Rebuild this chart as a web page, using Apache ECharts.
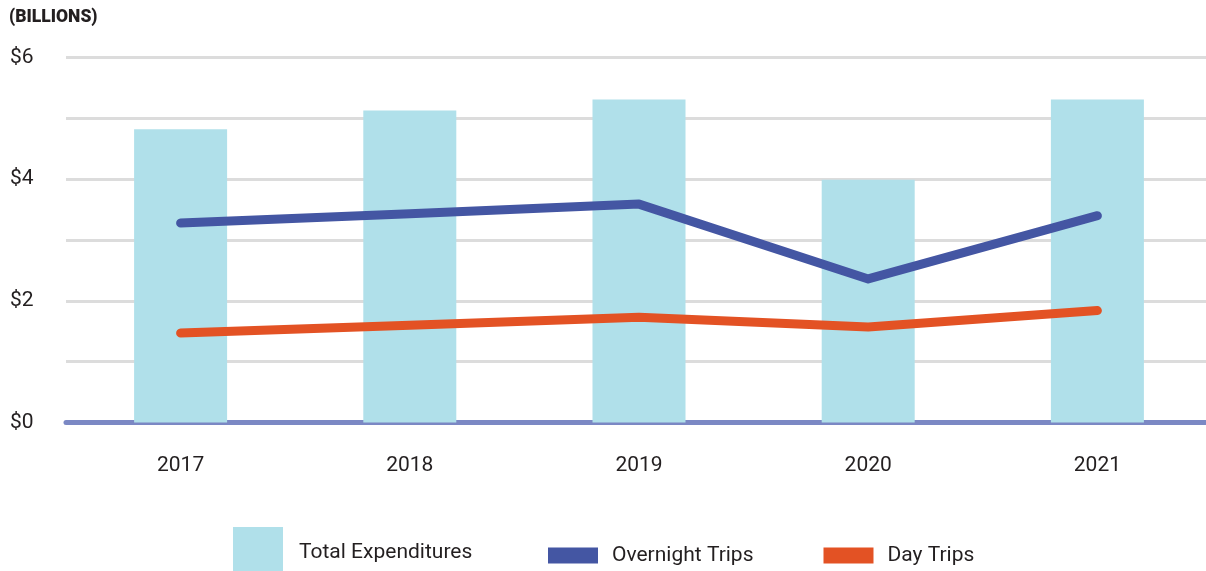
<!DOCTYPE html>
<html>
<head>
<meta charset="utf-8">
<script src="https://cdn.jsdelivr.net/npm/echarts@6/dist/echarts.min.js"></script>
<style>html,body{margin:0;padding:0;background:#fff;overflow:hidden;width:1206px;height:571px;}#c{width:1212px;height:571px;}</style>
</head>
<body>
<div id="c"></div>
<script>
const years = ['2017', '2018', '2019', '2020', '2021'];
const totalExpenditures = [4.82, 5.13, 5.31, 3.99, 5.31];
const overnightTrips = [3.28, 3.43, 3.59, 2.36, 3.40];
const dayTrips = [1.47, 1.60, 1.73, 1.57, 1.84];
const yTickLabels = {0: '$0', 2: '$2', 4: '$4', 6: '$6'};

const chart = echarts.init(document.getElementById('c'), null, {renderer: 'canvas'});
const font = 'Roboto, "Noto Sans", sans-serif';
chart.setOption({
  animation: false,
  textStyle: {fontFamily: font},
  title: {
    text: '(BILLIONS)', left: 9, top: 9, padding: 0,
    textStyle: {fontSize: 17.5, fontWeight: 900, color: '#231f20', fontFamily: font}
  },
  grid: {left: 66, right: 0, top: 57.5, bottom: 148.5, containLabel: false},
  legend: [
    {
      data: ['Total Expenditures'], left: 233, top: 527, padding: 0,
      itemWidth: 50, itemHeight: 52, itemGap: 54,
      icon: 'path://M0,0h50v44h-50zM0,52h0',
      textStyle: {fontSize: 21, color: '#231f20', padding: [0, 0, 0, 11], fontFamily: font}
    },
    {
      data: ['Overnight Trips', 'Day Trips'], left: 548, top: 545, padding: 0,
      itemWidth: 50, itemHeight: 16, itemGap: 70, icon: 'rect',
      textStyle: {fontSize: 21, color: '#231f20', padding: [0, 0, 0, 9], fontFamily: font}
    }
  ],
  xAxis: {
    type: 'category', data: years,
    axisLine: {show: true, lineStyle: {color: '#7b88c4', width: 5}},
    axisTick: {show: false},
    axisLabel: {fontSize: 21, color: '#231f20', margin: 33, fontFamily: font},
    splitLine: {show: false}
  },
  yAxis: {
    type: 'value', min: 0, max: 6, interval: 1,
    axisLine: {show: false}, axisTick: {show: false},
    axisLabel: {
      fontSize: 21, color: '#231f20', align: 'left', margin: 56, fontFamily: font,
      formatter: v => yTickLabels[v] || ''
    },
    splitLine: {lineStyle: {color: '#dcdcdc', width: 3}}
  },
  series: [
    {
      name: 'Total Expenditures', type: 'bar', data: totalExpenditures,
      barWidth: 93, itemStyle: {color: '#b0e0ea'}, z: 1
    },
    {
      name: 'Overnight Trips', type: 'line', data: overnightTrips,
      showSymbol: false, symbol: 'none',
      lineStyle: {color: '#4456a3', width: 9, cap: 'round', join: 'round'},
      itemStyle: {color: '#4456a3'}, z: 3
    },
    {
      name: 'Day Trips', type: 'line', data: dayTrips,
      showSymbol: false, symbol: 'none',
      lineStyle: {color: '#e35224', width: 9, cap: 'round', join: 'round'},
      itemStyle: {color: '#e35224'}, z: 3
    }
  ]
});
</script>
</body>
</html>
